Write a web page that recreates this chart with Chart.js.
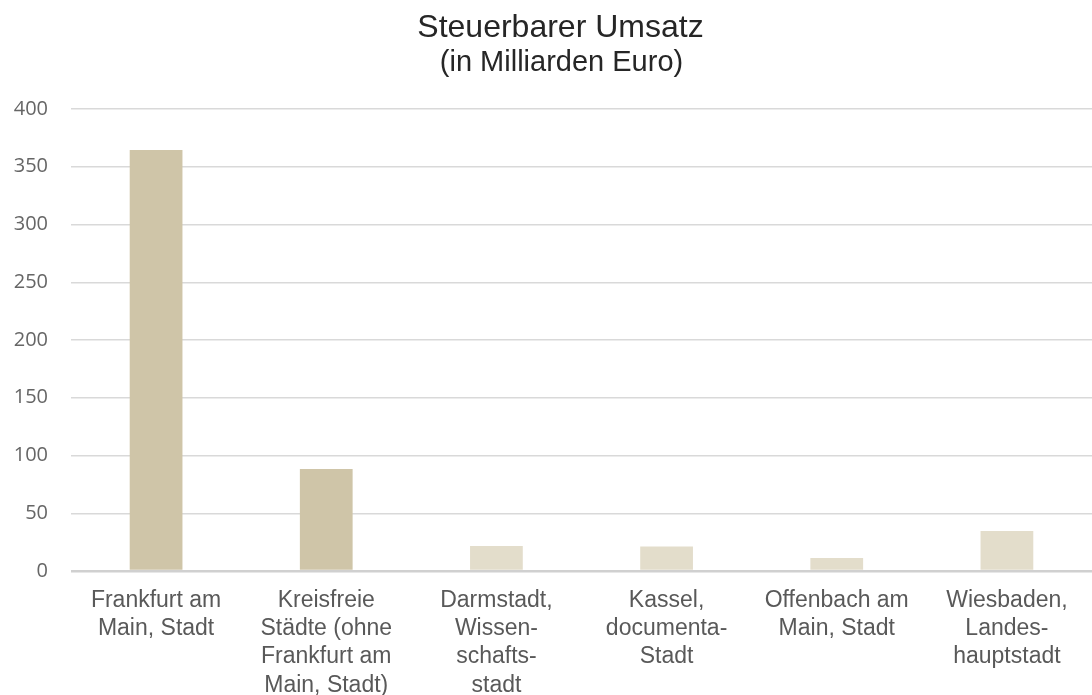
<!DOCTYPE html>
<html>
<head>
<meta charset="utf-8">
<script src="https://cdn.jsdelivr.net/npm/chart.js@4"></script>
<style>
  html, body { margin: 0; padding: 0; background: #ffffff; }
  #wrap { width: 1092px; height: 695px; position: relative; }
</style>
</head>
<body>
<div id="wrap"><canvas id="c"></canvas></div>
<script>
const categories = [
  ["Frankfurt am", "Main, Stadt"],
  ["Kreisfreie", "Städte (ohne", "Frankfurt am", "Main, Stadt)"],
  ["Darmstadt,", "Wissen-", "schafts-", "stadt"],
  ["Kassel,", "documenta-", "Stadt"],
  ["Offenbach am", "Main, Stadt"],
  ["Wiesbaden,", "Landes-", "hauptstadt"]
];
const umsatz = [364.5, 88.3, 21.6, 21.3, 11.3, 34.6];
const barColors = ["#CFC5A8", "#CFC5A8", "#E3DDCB", "#E3DDCB", "#E3DDCB", "#E3DDCB"];
const yTicks = [0, 50, 100, 150, 200, 250, 300, 350, 400];
const titleText = "Steuerbarer Umsatz";
const subtitleText = "(in Milliarden Euro)";

const titlePlugin = {
  id: "twoLineTitle",
  afterDraw(chart) {
    const ctx = chart.ctx;
    ctx.save();
    ctx.fillStyle = "#262626";
    ctx.textAlign = "center";
    ctx.textBaseline = "alphabetic";
    ctx.font = "32px 'Liberation Sans', Arial, sans-serif";
    ctx.fillText(titleText, 560.5, 37);
    ctx.font = "29px 'Liberation Sans', Arial, sans-serif";
    ctx.fillText(subtitleText, 561.5, 71);
    ctx.restore();
  }
};

new Chart(document.getElementById("c"), {
  type: "bar",
  data: {
    labels: categories,
    datasets: [{
      data: umsatz,
      backgroundColor: barColors,
      borderWidth: 0,
      barPercentage: 0.31,
      categoryPercentage: 1.0
    }]
  },
  plugins: [titlePlugin],
  options: {
    responsive: true,
    maintainAspectRatio: false,
    animation: false,
    layout: { padding: { left: 0, right: 0, top: 109, bottom: 0 } },
    plugins: {
      legend: { display: false },
      tooltip: { enabled: false },
      title: { display: false }
    },
    scales: {
      x: {
        grid: { display: false, drawTicks: false },
        border: { display: false },
        ticks: {
          color: "#595959",
          padding: 16,
          maxRotation: 0,
          autoSkip: false,
          font: { family: "'Liberation Sans', Arial, sans-serif", size: 23, lineHeight: 1.22 }
        },
        afterFit: (s) => { s.height = 124; }
      },
      y: {
        min: 0,
        max: 400,
        afterBuildTicks: (s) => { s.ticks = yTicks.map(v => ({ value: v })); },
        grid: {
          drawTicks: false,
          color: (ctx) => ctx.tick && ctx.tick.value === 0 ? "#d0d0d0" : "#d9d9d9",
          lineWidth: (ctx) => ctx.tick && ctx.tick.value === 0 ? 2.5 : 1.5
        },
        border: { display: false },
        ticks: {
          color: "#666666",
          padding: 23,
          font: { family: "'Open Sans', sans-serif", size: 20 }
        },
        afterFit: (s) => { s.width = 71; }
      }
    }
  }
});
</script>
</body>
</html>
